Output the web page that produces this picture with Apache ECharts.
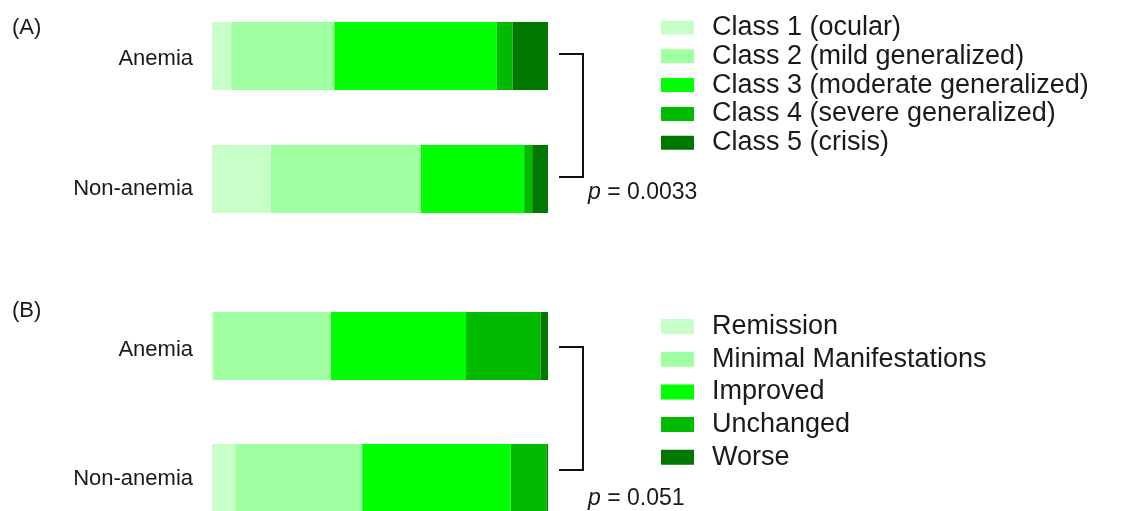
<!DOCTYPE html>
<html>
<head>
<meta charset="utf-8">
<script src="https://cdn.jsdelivr.net/npm/echarts@6/dist/echarts.min.js"></script>
<style>
  html, body { margin: 0; padding: 0; background: #ffffff; }
  #chart { width: 1122px; height: 511px; }
</style>
</head>
<body>
<div id="chart"></div>
<script>
// Groups compared in both panels
const categories = ['Anemia', 'Non-anemia'];

// Panel A: MGFA clinical classification (% of patients)
const classNames = [
  'Class 1 (ocular)',
  'Class 2 (mild generalized)',
  'Class 3 (moderate generalized)',
  'Class 4 (severe generalized)',
  'Class 5 (crisis)'
];
const ocular   = [5.7, 17.5];
const mild     = [30.7, 44.7];
const moderate = [48.3, 30.7];
const severe   = [4.8, 2.4];
const crisis   = [10.5, 4.7];
const pValueA = '0.0033';

// Panel B: post-intervention status (% of patients)
const outcomeNames = [
  'Remission',
  'Minimal Manifestations',
  'Improved',
  'Unchanged',
  'Worse'
];
const remission = [0.4, 6.9];
const minimal   = [35.0, 37.8];
const improved  = [40.2, 44.2];
const unchanged = [22.2, 10.7];
const worse     = [2.2, 0.4];
const pValueB = '0.051';

const greens = ['#c8ffc8', '#a0ffa0', '#00ff00', '#00bb00', '#007700'];
const FONT = '"Liberation Sans", Arial, Helvetica, sans-serif';
const INK = '#1a1a1a';

const chart = echarts.init(document.getElementById('chart'), null, { renderer: 'canvas' });

function stackSeries(names, arrays, gridIdx, stackId) {
  return names.map((name, i) => ({
    type: 'bar',
    name: name,
    stack: stackId,
    xAxisIndex: gridIdx,
    yAxisIndex: gridIdx,
    barWidth: 68,
    data: arrays[i],
    itemStyle: { color: greens[i] },
    emphasis: { disabled: true },
    animation: false
  }));
}

function valueAxis(gridIdx) {
  return { type: 'value', gridIndex: gridIdx, min: 0, max: 100, show: false };
}

// Category labels; a top padding nudges each label down slightly
function catAxis(gridIdx, pads) {
  return {
    type: 'category', gridIndex: gridIdx, data: categories,
    inverse: true, boundaryGap: false,
    axisLine: { show: false }, axisTick: { show: false }, splitLine: { show: false },
    axisLabel: {
      margin: 19, fontSize: 22, color: INK, fontFamily: FONT,
      formatter: (v, idx) => '{l' + idx + '|' + v + '}',
      rich: {
        l0: { fontSize: 22, fontFamily: FONT, color: INK, padding: [pads[0], 0, 0, 0] },
        l1: { fontSize: 22, fontFamily: FONT, color: INK, padding: [pads[1], 0, 0, 0] }
      }
    }
  };
}

function legendFor(names, top, gap, h) {
  return {
    orient: 'vertical', left: 656, top: top,
    itemWidth: 33, itemHeight: h, itemGap: gap,
    icon: 'rect', selectedMode: false,
    data: names,
    textStyle: {
      fontSize: 27, fontFamily: FONT, color: INK,
      padding: [0, 0, 0, 13]
    }
  };
}

chart.setOption({
  backgroundColor: '#ffffff',
  animation: false,
  color: greens,
  grid: [
    { left: 212, width: 336, top: 56, height: 123 },
    { left: 212, width: 336, top: 346, height: 132 }
  ],
  xAxis: [valueAxis(0), valueAxis(1)],
  yAxis: [catAxis(0, [6, 20]), catAxis(1, [8, 2])],
  legend: [
    legendFor(classNames, 9, 1.8, 14),
    legendFor(outcomeNames, 308, 5.7, 15)
  ],
  series: [
    ...stackSeries(classNames, [ocular, mild, moderate, severe, crisis], 0, 'cls'),
    ...stackSeries(outcomeNames, [remission, minimal, improved, unchanged, worse], 1, 'out')
  ]
});

// Significance brackets and p-values, placed relative to the bar centres
function bracket(gridIdx, pText, topShift, botShift, pDrop) {
  const xEnd = chart.convertToPixel({ xAxisIndex: gridIdx }, 100);
  const yTop = chart.convertToPixel({ yAxisIndex: gridIdx }, categories[0]) + topShift;
  const yBot = chart.convertToPixel({ yAxisIndex: gridIdx }, categories[1]) + botShift;
  const xv = xEnd + 35;
  return [
    {
      type: 'polyline', silent: true,
      shape: { points: [[xEnd + 11, yTop], [xv, yTop], [xv, yBot], [xEnd + 11, yBot]] },
      style: { stroke: '#111', lineWidth: 2, fill: null }
    },
    {
      type: 'text', silent: true, x: xEnd + 40, y: yBot + pDrop,
      style: {
        text: '{i|p} = ' + pText,
        verticalAlign: 'middle',
        font: '23px ' + FONT, fill: INK,
        rich: {
          i: { fontStyle: 'italic', fontSize: 23, fontFamily: FONT, fill: INK }
        }
      }
    }
  ];
}

chart.setOption({
  graphic: [
    ...bracket(0, pValueA, -2, -2, 16),
    ...bracket(1, pValueB, 1, -8, 29),
    { type: 'text', silent: true, x: 12, y: 28,
      style: { text: '(A)', font: '22px ' + FONT, fill: INK, verticalAlign: 'middle' } },
    { type: 'text', silent: true, x: 12, y: 311,
      style: { text: '(B)', font: '22px ' + FONT, fill: INK, verticalAlign: 'middle' } }
  ]
});
</script>
</body>
</html>
